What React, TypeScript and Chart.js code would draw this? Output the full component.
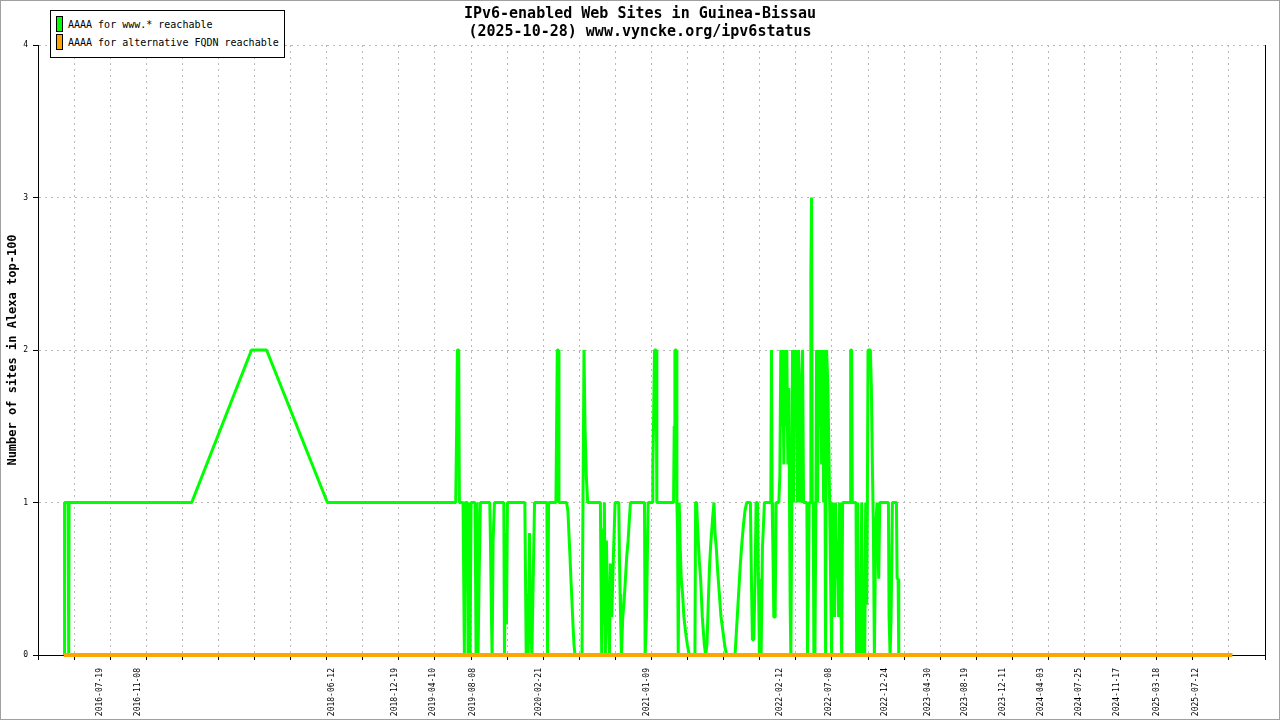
import React, { useEffect, useRef } from 'react';
import { Chart, registerables } from 'chart.js';

Chart.register(...registerables);

const MONO = "'DejaVu Sans Mono', monospace";
const GRID = '#b8b8b8';

// days are counted from 2016-01-01
const EPOCH = Date.UTC(2016, 0, 1);
const dayOf = (iso: string) => {
    const [y, m, d] = iso.split('-').map(Number);
    return Math.round((Date.UTC(y, m - 1, d) - EPOCH) / 86400000);
};

const titleLines = ['IPv6-enabled Web Sites in Guinea-Bissau', '(2025-10-28) www.vyncke.org/ipv6status'];
const yAxisTitle = 'Number of sites in Alexa top-100';

const xTickLabels = [
    '2016-07-19', '2016-11-08', '2018-06-12', '2018-12-19', '2019-04-10', '2019-08-08',
    '2020-02-21', '2021-01-09', '2022-02-12', '2022-07-08', '2022-12-24', '2023-04-30',
    '2023-08-19', '2023-12-11', '2024-04-03', '2024-07-25', '2024-11-17', '2025-03-18',
    '2025-07-12',
];

// x range of the plot (days) and spacing of the grid / tick marks
const xMin = 14;
const xMax = 3686;
const gridStep = 108;

// "AAAA for www.* reachable"
const wwwDays = [
    92, 93, 94, 104, 106, 107, 474, 653, 698, 880,
    1264, 1267, 1269, 1273, 1275,
    1286, 1288, 1290, 1292, 1299, 1301, 1304, 1307, 1310,
    1322, 1325, 1328, 1331, 1334, 1338,
    1366, 1368, 1371, 1373, 1376, 1380,
    1408, 1410, 1413, 1416, 1419,
    1471, 1473, 1475, 1478, 1481, 1485, 1488, 1492, 1496, 1500,
    1537, 1539, 1542,
    1564, 1566, 1568, 1571, 1573,
    1596, 1600, 1603, 1606, 1609, 1612, 1615, 1618, 1621,
    1642, 1645, 1648, 1651, 1655, 1659,
    1697, 1699, 1701, 1704, 1707, 1709, 1712, 1715, 1718, 1721, 1724, 1727, 1731, 1736, 1741,
    1752, 1754, 1756, 1758, 1760, 1764, 1768, 1772, 1776, 1780, 1784, 1787,
    1829, 1831, 1835, 1840,
    1852, 1854, 1856, 1859, 1864, 1866,
    1916, 1918, 1920, 1924, 1926,
    1928, 1930, 1933, 1936, 1939, 1943, 1947, 1952, 1957, 1963,
    1980, 1982, 1985, 1988, 1993, 1997, 2002, 2008, 2012,
    2016, 2020, 2024, 2028, 2033, 2037, 2040, 2044, 2048, 2053, 2058, 2064, 2070, 2075,
    2100, 2104, 2108, 2112, 2116, 2120, 2125, 2130, 2135,
    2146, 2149, 2152, 2156, 2160, 2163, 2167, 2170, 2173, 2176, 2178, 2182, 2188,
    2207, 2209, 2211, 2213, 2216, 2220, 2223,
    2231, 2234, 2237, 2240, 2243, 2246, 2249, 2252, 2255, 2258, 2261, 2263,
    2265, 2267, 2270,
    2272, 2275, 2278, 2281, 2284, 2287, 2290, 2293, 2296, 2299, 2302, 2305,
    2315, 2317, 2320, 2322,
    2326, 2327, 2329, 2331,
    2334, 2336, 2339, 2342,
    2344, 2347, 2350, 2353, 2356, 2359, 2362, 2365, 2368, 2371, 2374, 2378, 2383,
    2386, 2389, 2392, 2395, 2398, 2401, 2404, 2407, 2410, 2413, 2416, 2419, 2422,
    2445, 2446, 2449, 2451,
    2462, 2464, 2467, 2470, 2473, 2476, 2479, 2482, 2485, 2488, 2491, 2494,
    2496, 2498, 2505, 2508, 2511,
    2514, 2517, 2521, 2525,
    2530, 2533,
    2559, 2561, 2564, 2567, 2571,
    2583, 2585, 2588, 2590, 3588,
];
const wwwValues = [
    0, 0.5, 1, 1, 0, 1, 1, 2, 2, 1,
    1, 1.5, 2, 2, 1,
    1, 0.5, 0, 1, 1, 0, 1, 0, 1,
    1, 0, 1, 0, 0.5, 1,
    1, 0.75, 0.25, 0, 0.75, 1,
    1, 0, 0.8, 0.2, 1,
    1, 0.5, 0, 0.4, 0, 0.8, 0.2, 0, 0.5, 1,
    1, 0, 1,
    1, 1.5, 2, 2, 1,
    1, 0.94, 0.79, 0.65, 0.49, 0.35, 0.2, 0.07, 0,
    0, 1, 2, 1.5, 1.17, 1,
    1, 0.5, 0, 0.83, 0.2, 1, 0, 0.75, 0.4, 0.2, 0, 0.6, 0.25, 0.65, 1,
    1, 0.65, 0.4, 0.2, 0, 0.25, 0.35, 0.5, 0.65, 0.75, 0.9, 1,
    1, 0, 0.25, 1,
    1, 1.25, 1.5, 2, 2, 1,
    1, 1.5, 2, 2, 1,
    0.8, 0, 1, 0.7, 0.5, 0.4, 0.25, 0.15, 0.07, 0,
    0, 1, 1, 0.83, 0.62, 0.5, 0.25, 0.07, 0,
    0.07, 0.35, 0.6, 0.75, 0.9, 1, 0.8, 0.7, 0.55, 0.4, 0.25, 0.15, 0.05, 0,
    0, 0.15, 0.3, 0.45, 0.6, 0.72, 0.85, 0.95, 1,
    1, 0.5, 0.1, 0.1, 0.5, 1, 1, 0.5, 0, 0.5, 0, 0.7, 1,
    1, 2, 1, 0.75, 0.25, 0.25, 1,
    1, 1.17, 2, 1.5, 2, 1.25, 2, 1.5, 2, 1.25, 1.75, 1,
    0.33, 0, 1,
    2, 1, 2, 1.5, 2, 1, 2, 1.5, 1, 1.75, 2, 1,
    1, 0, 0.5, 1,
    1, 2.5, 3, 1,
    1, 0, 0, 1,
    2, 1, 2, 1.5, 2, 1.25, 2, 1, 2, 0, 2, 1.75, 1,
    0.5, 0, 1, 0.75, 0.25, 1, 0.5, 0.75, 0.25, 1, 0.5, 0, 1,
    1, 2, 2, 1,
    1, 0, 1, 0, 0.5, 0, 1, 0, 0.33, 0, 1, 0.33,
    1, 2, 2, 1.75, 1.25,
    0.83, 0, 0.83, 1,
    0.5, 1,
    1, 0.25, 0, 0.25, 1,
    1, 0.5, 0.5, 0, 0,
];

// "AAAA for alternative FQDN reachable"
const altDays = [91, 3588];
const altValues = [0, 0];

const legendItems = [
    { label: 'AAAA for www.* reachable', color: '#00ff00' },
    { label: 'AAAA for alternative FQDN reachable', color: '#ffa500' },
];

const App: React.FC = () => {
    const canvasRef = useRef<HTMLCanvasElement>(null);

    useEffect(() => {
        if (!canvasRef.current) return;
        const chart = new Chart(canvasRef.current, {
            type: 'line',
            data: {
                // orange first so it is drawn on top of the green zero runs
                datasets: [
                    {
                        label: legendItems[1].label,
                        data: altDays.map((d, i) => ({ x: d, y: altValues[i] })),
                        borderColor: legendItems[1].color,
                        borderWidth: 4,
                        borderJoinStyle: 'bevel',
                        pointRadius: 0,
                        tension: 0,
                        clip: false,
                    },
                    {
                        label: legendItems[0].label,
                        data: wwwDays.map((d, i) => ({ x: d, y: wwwValues[i] })),
                        borderColor: legendItems[0].color,
                        borderWidth: 3,
                        borderJoinStyle: 'bevel',
                        pointRadius: 0,
                        tension: 0,
                        clip: false,
                    },
                ],
            },
            options: {
                animation: false,
                responsive: true,
                maintainAspectRatio: false,
                layout: { padding: 0 },
                plugins: {
                    legend: { display: false },
                    tooltip: { enabled: false },
                    title: {
                        display: true,
                        text: titleLines,
                        color: '#000',
                        font: { family: MONO, size: 15, weight: 'bold', lineHeight: 1.2 },
                        padding: { top: 5, bottom: 4 },
                    },
                },
                scales: {
                    x: {
                        type: 'linear',
                        position: 'bottom',
                        weight: 0,
                        min: xMin,
                        max: xMax,
                        afterBuildTicks: (scale: any) => {
                            const ticks = [];
                            for (let v = xMin; v <= xMax; v += gridStep) ticks.push({ value: v });
                            scale.ticks = ticks;
                        },
                        ticks: { display: false },
                        grid: { color: GRID, tickColor: '#000', tickLength: 5, tickBorderDash: [] },
                        border: { color: '#000', dash: [2, 4] },
                    },
                    xl: {
                        type: 'linear',
                        position: 'bottom',
                        weight: 1,
                        min: xMin,
                        max: xMax,
                        afterBuildTicks: (scale: any) => {
                            scale.ticks = xTickLabels.map((l) => ({ value: dayOf(l) }));
                        },
                        afterFit: (scale: any) => {
                            scale.height = 60;
                        },
                        ticks: {
                            autoSkip: false,
                            minRotation: 90,
                            maxRotation: 90,
                            padding: 0,
                            color: '#000',
                            font: { family: MONO, size: 8 },
                            callback: (_v: any, i: number) => xTickLabels[i],
                        },
                        grid: { display: false },
                        border: { display: false },
                    },
                    y: {
                        type: 'linear',
                        position: 'left',
                        min: 0,
                        max: 4,
                        afterFit: (scale: any) => {
                            scale.width = 38;
                        },
                        ticks: { stepSize: 1, padding: 5, color: '#000', font: { family: MONO, size: 8 } },
                        grid: { color: GRID, tickColor: '#000', tickLength: 5, tickBorderDash: [] },
                        border: { color: '#000', dash: [2, 4] },
                        title: {
                            display: true,
                            text: yAxisTitle,
                            color: '#000',
                            font: { family: MONO, size: 12, weight: 'bold' },
                            padding: { top: 6, bottom: 0 },
                        },
                    },
                    yr: {
                        type: 'linear',
                        position: 'right',
                        min: 0,
                        max: 4,
                        afterFit: (scale: any) => {
                            scale.width = 15;
                        },
                        ticks: { display: false },
                        grid: { display: false },
                        border: { color: '#000' },
                    },
                },
            },
        });
        return () => chart.destroy();
    }, []);

    return (
        <div style={{ position: 'fixed', left: 0, top: 0, width: 1280, height: 720, background: '#fff' }}>
            <canvas ref={canvasRef}></canvas>
            <div
                style={{
                    position: 'absolute',
                    left: 50,
                    top: 10,
                    width: 235,
                    height: 48,
                    boxSizing: 'border-box',
                    border: '1px solid #000',
                    background: '#fff',
                    fontFamily: MONO,
                    fontSize: 10,
                    color: '#000',
                }}
            >
                {legendItems.map((item, i) => (
                    <div
                        key={item.label}
                        style={{ position: 'absolute', left: 5, top: 5 + i * 18, height: 16, display: 'flex', alignItems: 'center', whiteSpace: 'nowrap' }}
                    >
                        <span
                            style={{
                                display: 'inline-block',
                                width: 7,
                                height: 16,
                                boxSizing: 'border-box',
                                border: '1px solid #000',
                                background: item.color,
                                marginRight: 5,
                            }}
                        ></span>
                        <span>{item.label}</span>
                    </div>
                ))}
            </div>
            <div
                style={{
                    position: 'absolute',
                    inset: 0,
                    boxSizing: 'border-box',
                    border: '1px solid #a0a0a0',
                    pointerEvents: 'none',
                }}
            ></div>
        </div>
    );
};

export default App;
